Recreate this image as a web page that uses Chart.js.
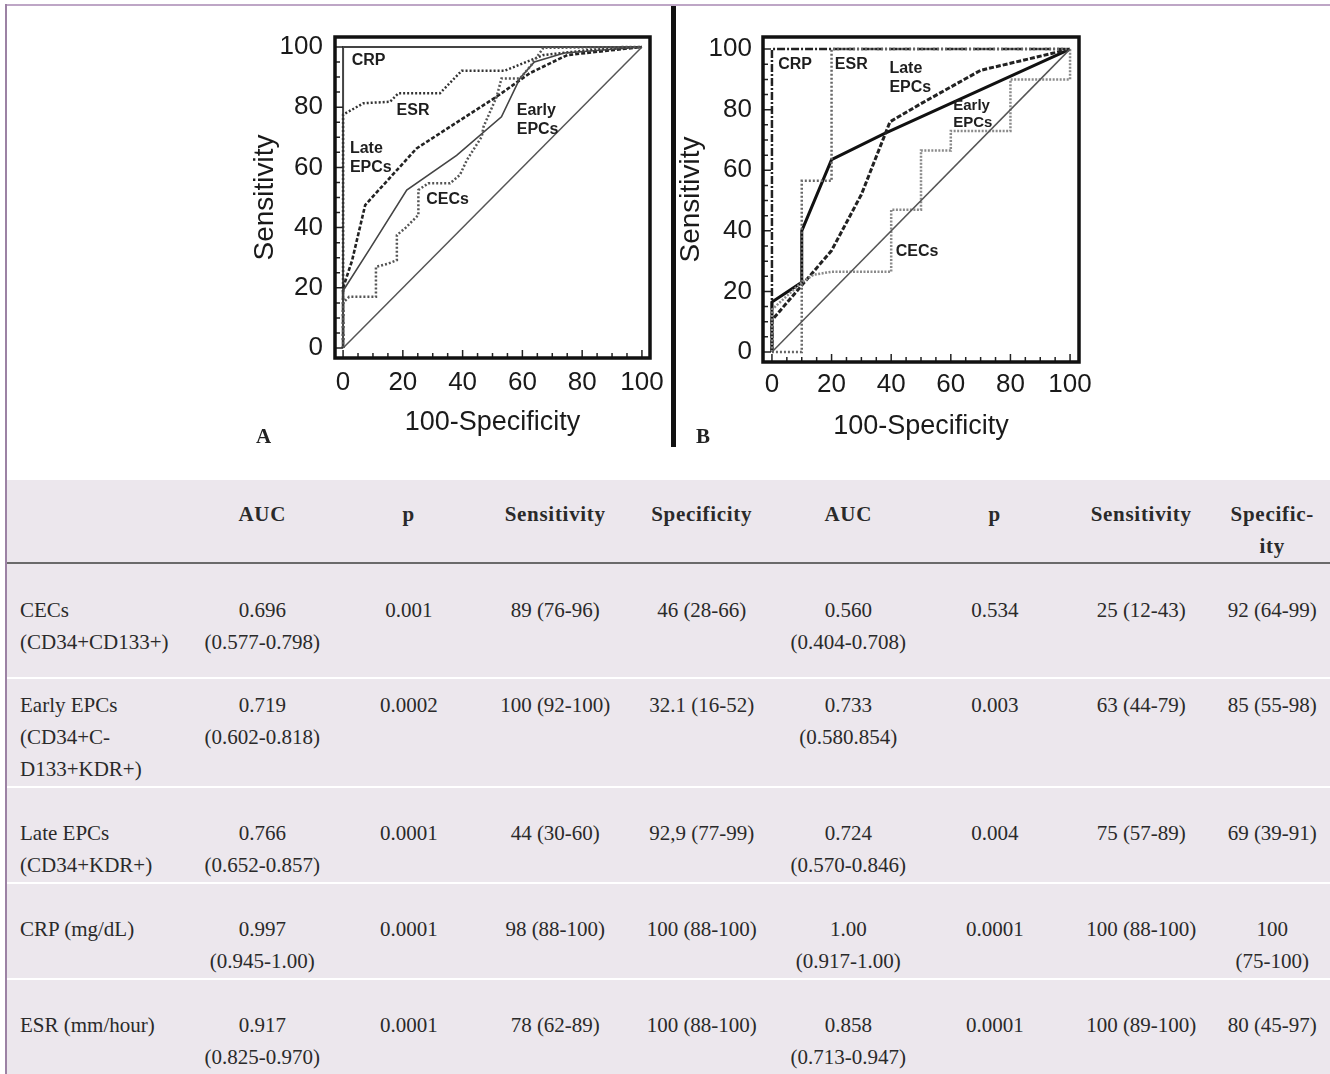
<!DOCTYPE html>
<html><head><meta charset="utf-8">
<script src="https://cdn.jsdelivr.net/npm/chart.js@4.4.1/dist/chart.umd.min.js"></script>
<style>
html,body{margin:0;padding:0;background:#fff;}
body{width:1330px;height:1074px;position:relative;overflow:hidden;font-family:"Liberation Serif","DejaVu Serif",serif;}
#topline{position:absolute;left:5px;top:4px;width:1325px;height:2px;background:#bea6c6;}
#leftline{position:absolute;left:5px;top:4px;width:1.5px;height:1070px;background:#9c82a4;}
#sep{position:absolute;left:671px;top:6px;width:5px;height:441px;background:#111;}
canvas{position:absolute;}
.panel{position:absolute;font-family:"Liberation Serif",serif;font-weight:bold;font-size:21px;color:#222;}
.row{position:absolute;left:7px;width:1323px;background:#ece7ed;}
.cell{position:absolute;top:0;text-align:center;font-size:21px;line-height:32px;color:#2a2a2a;white-space:nowrap;}
.head .cell{font-weight:bold;letter-spacing:0.7px;color:#2a2a2a;}
.cell.first{text-align:left;padding-left:13px;box-sizing:border-box;}
#hline{position:absolute;left:7px;top:562px;width:1323px;height:2px;background:#6a6a6a;}
</style>
</head>
<body>
<div id="topline"></div>
<div id="leftline"></div>
<div id="sep"></div>
<canvas id="ca" width="430" height="430" style="left:240px;top:20px;width:430px;height:430px"></canvas>
<canvas id="cb" width="426" height="430" style="left:674px;top:20px;width:426px;height:430px"></canvas>
<div class="panel" style="left:256px;top:424px;">A</div>
<div class="panel" style="left:696px;top:424px;">B</div>
<div id="table"></div>
<script>
// ---------- chart data ----------
const XTICKS = [0, 20, 40, 60, 80, 100];
const YTICKS = [0, 20, 40, 60, 80, 100];
const MINOR_TICKS = [0,5,10,15,20,25,30,35,40,45,50,55,60,65,70,75,80,85,90,95,100];

// Panel A (100-Specificity, Sensitivity)
const A_DIAG  = [[0,0],[100,100]];
const A_CRP   = [[0,0],[0,100],[100,100]];
const A_ESR   = [[0,0],[0,77.5],[6.8,81.3],[15.7,81.8],[18.5,84.6],[32.4,84.6],[39.7,92.1],[54,92.1],[67,97.3],[82.6,99],[100,100]];
const A_LATE  = [[0,0],[0,20],[3,29],[7.4,47.5],[24.6,66.3],[51.4,83.5],[62.5,91.3],[75,97.3],[100,100]];
const A_EARLY = [[0,0],[0,19],[9,33],[21.3,52.5],[38,64],[53,76.8],[59.2,89.6],[64,95],[74,98],[100,100]];
const A_CECS  = [[0,0],[0,15],[2,17],[11,17],[11,27],[15,28],[18,29.2],[18,37.5],[21,40],[25.2,44.2],[25.2,52.5],[28.5,54.7],[35.8,54.7],[39.1,57.5],[41.4,62.4],[46.4,70.2],[47,73.5],[51.4,83.5],[53,89.5],[59.2,89.5],[63,94],[67,99.7],[100,100]];

// Panel B
const B_DIAG  = [[0,0],[100,100]];
const B_CRP   = [[0,0],[0,100],[100,100]];
const B_ESR   = [[0,0],[10,0],[10,56.5],[20,56.5],[20,100],[100,100]];
const B_LATE  = [[0,0],[0,10.5],[20,33.5],[30,52],[39.6,76],[50,82],[70,93],[100,100]];
const B_EARLY = [[0,0],[0,16.5],[10,23],[10,40],[20,63.5],[37.5,72],[100,100]];
const B_CECS  = [[0,0],[0,14],[10,23],[14,25.5],[20,26.5],[40,26.5],[40,47],[50,47],[50,66.5],[60,66.5],[60,73],[80,73],[80,90],[100,90],[100,100]];

// ---------- table data ----------
const TABLE_HEAD = [[''],['AUC'],['p'],['Sensitivity'],['Specificity'],['AUC'],['p'],['Sensitivity'],['Specific-','ity']];
const ROW_NAMES = [['CECs','(CD34+CD133+)'],['Early EPCs','(CD34+C-','D133+KDR+)'],['Late EPCs','(CD34+KDR+)'],['CRP (mg/dL)'],['ESR (mm/hour)']];
const AUC_A  = [['0.696','(0.577-0.798)'],['0.719','(0.602-0.818)'],['0.766','(0.652-0.857)'],['0.997','(0.945-1.00)'],['0.917','(0.825-0.970)']];
const P_A    = ['0.001','0.0002','0.0001','0.0001','0.0001'];
const SENS_A = ['89 (76-96)','100 (92-100)','44 (30-60)','98 (88-100)','78 (62-89)'];
const SPEC_A = ['46 (28-66)','32.1 (16-52)','92,9 (77-99)','100 (88-100)','100 (88-100)'];
const AUC_B  = [['0.560','(0.404-0.708)'],['0.733','(0.580.854)'],['0.724','(0.570-0.846)'],['1.00','(0.917-1.00)'],['0.858','(0.713-0.947)']];
const P_B    = ['0.534','0.003','0.004','0.0001','0.0001'];
const SENS_B = ['25 (12-43)','63 (44-79)','75 (57-89)','100 (88-100)','100 (89-100)'];
const SPEC_B = [['92 (64-99)'],['85 (55-98)'],['69 (39-91)'],['100','(75-100)'],['80 (45-97)']];

// ---------- charts ----------
const pts = a => a.map(p => ({x: p[0], y: p[1]}));
const ds = (data, color, width, dash) => ({data: pts(data), showLine: true, borderColor: color, borderWidth: width,
  borderDash: dash, pointRadius: 0, fill: false, tension: 0, borderCapStyle: 'butt', borderJoinStyle: 'miter'});

const framePlugin = {
  id: 'rocframe',
  afterDatasetsDraw(chart, args, opts) {
    const {ctx, chartArea: {left, top, right, bottom}, scales: {x, y}} = chart;
    ctx.save();
    ctx.strokeStyle = '#222';
    ctx.lineWidth = 1.5;
    ctx.beginPath();
    for (const v of MINOR_TICKS) {
      const len = (v % 20 === 0) ? 8 : 5;
      const px = x.getPixelForValue(v);
      ctx.moveTo(px, bottom); ctx.lineTo(px, bottom - len);
      const py = y.getPixelForValue(v);
      ctx.moveTo(left, py); ctx.lineTo(left + len, py);
    }
    ctx.stroke();
    ctx.lineWidth = 3.5;
    ctx.strokeStyle = '#111';
    ctx.strokeRect(left, top, right - left, bottom - top);
    ctx.fillStyle = '#1e1e1e';
    ctx.textBaseline = 'middle';
    ctx.textAlign = 'left';
    for (const lb of opts.labels) {
      ctx.font = 'bold ' + lb.size + 'px "Liberation Sans", Arial, sans-serif';
      const px = x.getPixelForValue(lb.x), py = y.getPixelForValue(lb.y);
      lb.lines.forEach((t, i) => ctx.fillText(t, px, py + i * lb.gap));
    }
    ctx.restore();
  }
};

function makeChart(id, datasets, c) {
  const tickFont = {family: '"Liberation Sans", Arial, sans-serif', size: 26};
  return new Chart(document.getElementById(id), {
    type: 'scatter',
    data: {datasets},
    options: {
      responsive: false, animation: false, devicePixelRatio: 1,
      layout: {padding: c.pad},
      plugins: {legend: {display: false}, tooltip: {enabled: false}, rocframe: {labels: c.labels}},
      scales: {
        x: {type: 'linear', min: c.xmin, max: c.xmax,
          afterBuildTicks: s => { s.ticks = XTICKS.map(v => ({value: v})); },
          afterFit: s => { s.height = c.xh; s.paddingLeft = 0; s.paddingRight = 0; },
          grid: {display: false, drawTicks: false}, border: {display: false},
          ticks: {padding: c.xpad, font: tickFont, color: '#1a1a1a', maxRotation: 0, autoSkip: false, callback: v => String(v)},
          title: {display: true, text: '100-Specificity', font: {family: tickFont.family, size: 27}, color: '#1a1a1a', padding: 0}
        },
        y: {type: 'linear', min: c.ymin, max: c.ymax,
          afterBuildTicks: s => { s.ticks = YTICKS.map(v => ({value: v})); },
          afterFit: s => { s.width = c.yw; s.paddingTop = 0; s.paddingBottom = 0; },
          grid: {display: false, drawTicks: false}, border: {display: false},
          ticks: {padding: c.ypad, font: tickFont, color: '#1a1a1a', autoSkip: false, callback: v => String(v)},
          title: {display: true, text: 'Sensitivity', font: {family: tickFont.family, size: 28}, color: '#1a1a1a', padding: 0}
        }
      }
    },
    plugins: [framePlugin]
  });
}

makeChart('ca', [
  ds(A_DIAG, '#555', 1.5, []),
  ds(A_CECS, '#555', 2.5, [2, 2]),
  ds(A_EARLY, '#444', 1.6, []),
  ds(A_LATE, '#222', 2.6, [4, 2]),
  ds(A_ESR, '#333', 2.5, [2, 2]),
  ds(A_CRP, '#444', 2, [])
], {
  xmin: -2.7, xmax: 102.7, ymin: -3.3, ymax: 103.3,
  pad: {left: 8, top: 17, right: 20, bottom: 11},
  xh: 81, yw: 87, xpad: 9, ypad: 12,
  labels: [
    {lines: ['CRP'], x: 2.9, y: 95.3, size: 16, gap: 19.5},
    {lines: ['ESR'], x: 17.9, y: 79, size: 16, gap: 19.5},
    {lines: ['Late', 'EPCs'], x: 2.3, y: 66.4, size: 16, gap: 19.5},
    {lines: ['Early', 'EPCs'], x: 58.1, y: 78.9, size: 16, gap: 19.5},
    {lines: ['CECs'], x: 27.8, y: 49.3, size: 16, gap: 19.5}
  ]
});

makeChart('cb', [
  ds(B_DIAG, '#555', 1.5, []),
  ds(B_CECS, '#8a8a8a', 2.5, [2, 1.5]),
  ds(B_ESR, '#666', 2.5, [2, 2]),
  ds(B_LATE, '#222', 3, [5, 2]),
  ds(B_EARLY, '#111', 3, []),
  ds(B_CRP, '#222', 2.5, [8, 2, 2, 2])
], {
  xmin: -3, xmax: 103, ymin: -3.3, ymax: 104,
  pad: {left: 0, top: 17, right: 21, bottom: 7},
  xh: 81, yw: 89, xpad: 7, ypad: 11,
  labels: [
    {lines: ['CRP'], x: 2.1, y: 95, size: 16, gap: 19.5},
    {lines: ['ESR'], x: 21.1, y: 95, size: 16, gap: 19.5},
    {lines: ['Late', 'EPCs'], x: 39.4, y: 93.7, size: 16, gap: 19.5},
    {lines: ['Early', 'EPCs'], x: 60.8, y: 81.2, size: 15, gap: 16.7},
    {lines: ['CECs'], x: 41.5, y: 33.3, size: 16, gap: 19.5}
  ]
});

// ---------- table ----------
const COL_LEFT = [0, 182, 328.5, 475, 621.5, 768, 914.5, 1061, 1207.5];
const COL_W = [182, 146.5, 146.5, 146.5, 146.5, 146.5, 146.5, 146.5, 115.5];
const ROWS_GEOM = [ {top: 564, h: 113, pad: 30}, {top: 679, h: 107, pad: 10}, {top: 788, h: 94, pad: 29}, {top: 884, h: 94, pad: 29}, {top: 980, h: 94, pad: 29} ];
const tbl = document.getElementById('table');
function addRow(top, h, pad, cells, cls) {
  const r = document.createElement('div');
  r.className = 'row' + (cls ? ' ' + cls : '');
  r.style.top = top + 'px'; r.style.height = h + 'px';
  cells.forEach((lines, i) => {
    const c = document.createElement('div');
    c.className = 'cell' + (i === 0 ? ' first' : '');
    c.style.left = COL_LEFT[i] + 'px'; c.style.width = COL_W[i] + 'px'; c.style.paddingTop = pad + 'px';
    lines.forEach((t, j) => { if (j) c.appendChild(document.createElement('br')); c.appendChild(document.createTextNode(t)); });
    r.appendChild(c);
  });
  tbl.appendChild(r);
}
addRow(480, 82, 18, TABLE_HEAD, 'head');
const hl = document.createElement('div'); hl.id = 'hline'; tbl.appendChild(hl);
ROW_NAMES.forEach((name, i) => {
  const g = ROWS_GEOM[i];
  addRow(g.top, g.h, g.pad, [name, AUC_A[i], [P_A[i]], [SENS_A[i]], [SPEC_A[i]], AUC_B[i], [P_B[i]], [SENS_B[i]], SPEC_B[i]]);
});
</script>
</body></html>
